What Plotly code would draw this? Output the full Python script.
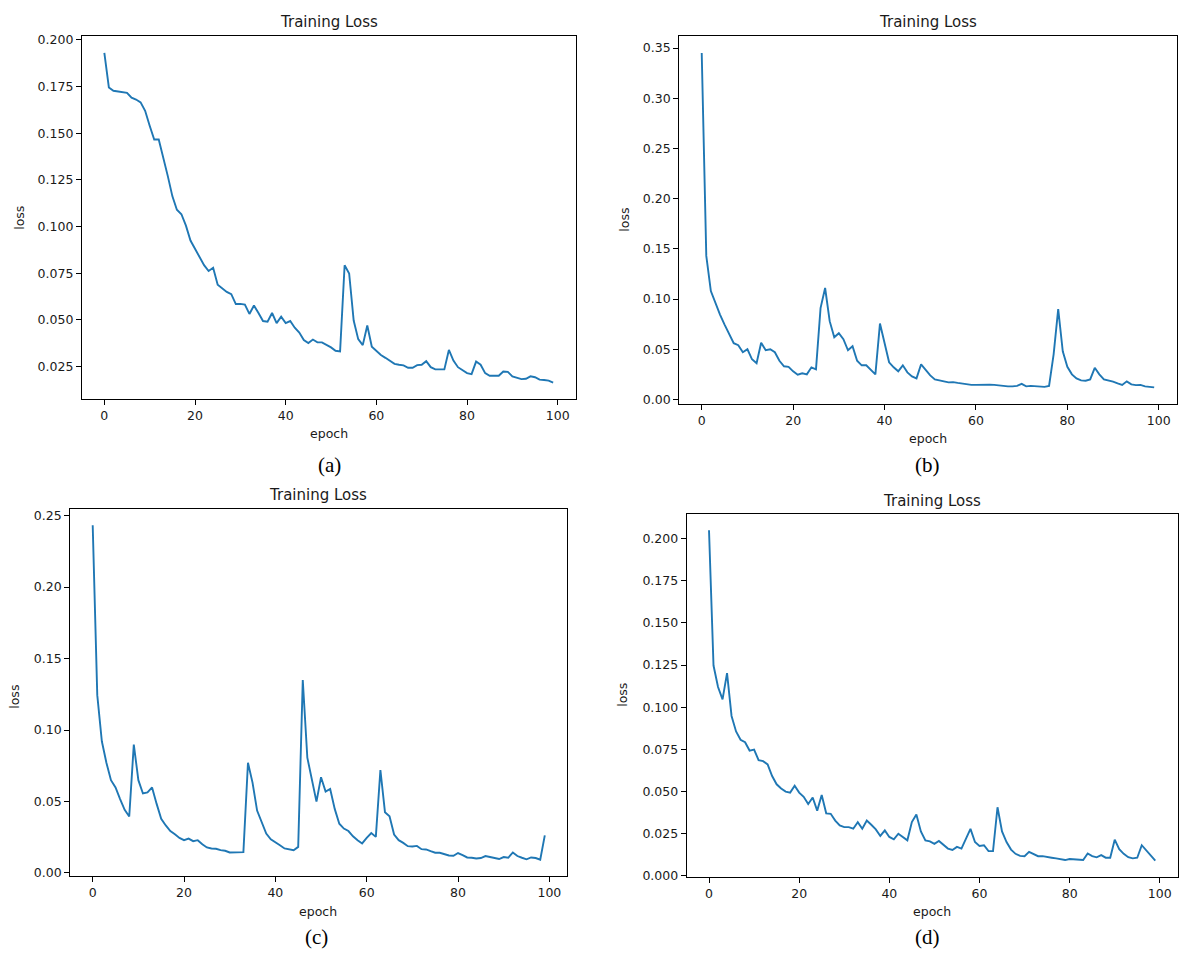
import plotly.graph_objects as go

# ---------------- data ----------------
epochs = list(range(100))

loss_a = [0.193, 0.1745, 0.1727, 0.1722, 0.1718, 0.1716, 0.169, 0.168, 0.1665, 0.162,
          0.154, 0.1466, 0.1466, 0.1375, 0.127, 0.1163, 0.109, 0.1066, 0.1005, 0.0925,
          0.088, 0.0843, 0.0793, 0.0762, 0.0779, 0.0688, 0.067, 0.065, 0.0638, 0.0585,
          0.0586, 0.0582, 0.0532, 0.0577, 0.0537, 0.0494, 0.049, 0.0537, 0.0483, 0.0517,
          0.0483, 0.0494, 0.0458, 0.0432, 0.0392, 0.0376, 0.0395, 0.038, 0.038, 0.0368,
          0.0353, 0.0335, 0.0331, 0.0793, 0.0749, 0.0497, 0.0397, 0.0365, 0.047, 0.0356,
          0.0335, 0.0312, 0.0297, 0.0282, 0.0265, 0.026, 0.0257, 0.0244, 0.0244, 0.0258,
          0.026, 0.0279, 0.0247, 0.0235, 0.0235, 0.0235, 0.0339, 0.0282, 0.0247, 0.0229,
          0.0215, 0.021, 0.0277, 0.026, 0.0215, 0.0201, 0.0201, 0.0201, 0.0224, 0.0222,
          0.0198, 0.0189, 0.0183, 0.0185, 0.0198, 0.0193, 0.018, 0.0178, 0.0175, 0.0164]

loss_b = [0.345, 0.143, 0.108, 0.096, 0.0845, 0.0746, 0.065, 0.056, 0.054, 0.047,
          0.050, 0.040, 0.036, 0.0565, 0.049, 0.050, 0.047, 0.0385, 0.033, 0.0325,
          0.028, 0.0246, 0.026, 0.025, 0.032, 0.030, 0.091, 0.111, 0.078, 0.062,
          0.066, 0.060, 0.049, 0.053, 0.0385, 0.034, 0.034, 0.029, 0.025, 0.0756,
          0.055, 0.037, 0.032, 0.028, 0.034, 0.027, 0.023, 0.021, 0.035, 0.029,
          0.024, 0.020, 0.0187, 0.018, 0.017, 0.0173, 0.0165, 0.0156, 0.015, 0.0145,
          0.0145, 0.0148, 0.0145, 0.0147, 0.0145, 0.014, 0.013, 0.013, 0.013, 0.0135,
          0.0155, 0.013, 0.0135, 0.013, 0.0125, 0.0125, 0.0135, 0.045, 0.090, 0.048,
          0.0325, 0.025, 0.021, 0.019, 0.0187, 0.020, 0.0315, 0.025, 0.020, 0.019,
          0.0177, 0.016, 0.0145, 0.018, 0.015, 0.0143, 0.0145, 0.013, 0.0125, 0.012]

loss_c = [0.2433, 0.1244, 0.0921, 0.0771, 0.0649, 0.0598, 0.0517, 0.0441, 0.0395, 0.0898,
          0.0649, 0.0556, 0.0563, 0.0598, 0.0483, 0.0379, 0.0332, 0.0293, 0.027, 0.0245,
          0.0229, 0.024, 0.0222, 0.0229, 0.0201, 0.0178, 0.0171, 0.0169, 0.0159, 0.0155,
          0.0143, 0.0143, 0.0145, 0.0145, 0.0771, 0.0632, 0.0436, 0.0355, 0.0275, 0.0235,
          0.0217, 0.0194, 0.0171, 0.0166, 0.0159, 0.0182, 0.135, 0.0806, 0.065, 0.0499,
          0.067, 0.0569, 0.0587, 0.0448, 0.0344, 0.031, 0.0293, 0.0256, 0.0229, 0.0206,
          0.0245, 0.0279, 0.0252, 0.072, 0.0425, 0.0397, 0.0268, 0.0229, 0.021, 0.0187,
          0.0185, 0.0189, 0.0166, 0.0164, 0.0152, 0.0141, 0.0141, 0.0132, 0.0122, 0.012,
          0.0139, 0.0124, 0.0108, 0.0106, 0.0101, 0.0104, 0.0118, 0.0111, 0.0104, 0.0097,
          0.0111, 0.0106, 0.0143, 0.0118, 0.0106, 0.0095, 0.0108, 0.0104, 0.0092, 0.0263]

loss_d = [0.2049, 0.1247, 0.112, 0.1046, 0.1202, 0.0948, 0.0856, 0.0807, 0.0792, 0.0743,
          0.0749, 0.0686, 0.068, 0.0661, 0.0592, 0.0543, 0.0518, 0.05, 0.0494, 0.0534,
          0.0494, 0.0469, 0.0426, 0.0465, 0.0387, 0.0479, 0.0371, 0.0368, 0.0328, 0.0299,
          0.0289, 0.0289, 0.028, 0.0319, 0.028, 0.0328, 0.0303, 0.0276, 0.0237, 0.027,
          0.0231, 0.0217, 0.025, 0.0231, 0.0211, 0.0319, 0.0364, 0.0264, 0.0211, 0.0205,
          0.019, 0.0207, 0.0182, 0.0162, 0.0154, 0.0172, 0.0162, 0.0221, 0.0279, 0.0201,
          0.0178, 0.0182, 0.0147, 0.0147, 0.0407, 0.0264, 0.0201, 0.0156, 0.0131, 0.0119,
          0.0117, 0.0143, 0.0131, 0.0117, 0.0117, 0.0111, 0.0108, 0.0104, 0.0100, 0.0094,
          0.0100, 0.0098, 0.0094, 0.0094, 0.0133, 0.0117, 0.0110, 0.0123, 0.0108, 0.0108,
          0.0215, 0.0158, 0.0131, 0.0111, 0.0104, 0.0108, 0.0182, 0.0152, 0.0117, 0.009]

x_ticks = [0, 20, 40, 60, 80, 100]
y_ticks_a = [0.025, 0.050, 0.075, 0.100, 0.125, 0.150, 0.175, 0.200]
y_ticks_b = [0.00, 0.05, 0.10, 0.15, 0.20, 0.25, 0.30, 0.35]
y_ticks_c = [0.00, 0.05, 0.10, 0.15, 0.20, 0.25]
y_ticks_d = [0.000, 0.025, 0.050, 0.075, 0.100, 0.125, 0.150, 0.175, 0.200]
y_tick_fmt = ["{:.3f}", "{:.2f}", "{:.2f}", "{:.3f}"]

panel_title = "Training Loss"
x_label = "epoch"
y_label = "loss"
captions = ["(a)", "(b)", "(c)", "(d)"]

# ---------------- layout geometry (pixels) ----------------
W, H = 1190, 966
# plot boxes: left, right, top, bottom
boxes = [(81.9, 575.6, 32.7, 399.3),
         (679.1, 1176.8, 32.7, 404.3),
         (70.1, 567.4, 509.8, 881.6),
         (686.7, 1177.6, 515.0, 882.4)]
title_pos = [(328.7, 18), (928, 18), (318, 496), (932, 502)]
xlabel_pos = [(328.7, 434), (928, 439), (318, 917), (932, 917)]
ylabel_pos = [(20, 216), (625, 218), (15, 700), (623, 698)]
caption_pos = [(329, 466), (927, 466), (316, 943), (927, 943)]

series = [loss_a, loss_b, loss_c, loss_d]
yticks = [y_ticks_a, y_ticks_b, y_ticks_c, y_ticks_d]

LINE_COLOR = "#1f77b4"
FONT = "DejaVu Sans"
TXT = "#1a1a1a"

fig = go.Figure()
annotations = []


def px(xp):
    return xp / W


def py(yp):
    return 1 - yp / H


for i in range(4):
    s = "" if i == 0 else str(i + 1)
    fig.add_trace(go.Scatter(x=epochs, y=series[i], mode="lines",
                             line=dict(color=LINE_COLOR, width=1.9),
                             xaxis="x" + s, yaxis="y" + s, showlegend=False,
                             hoverinfo="x+y"))
    l, r, t, b = boxes[i]
    vals = series[i]
    lo, hi = min(vals), max(vals)
    pad = 0.05 * (hi - lo)
    xaxis = dict(domain=[px(l), px(r)], anchor="y" + s, range=[-4.95, 103.95],
                 tickmode="array", tickvals=x_ticks, ticktext=[str(v) for v in x_ticks],
                 ticks="outside", ticklen=5, tickwidth=1, tickcolor="black",
                 showline=True, linecolor="black", linewidth=1, mirror=True,
                 showgrid=False, zeroline=False,
                 tickfont=dict(family=FONT, size=12.5, color=TXT))
    yaxis = dict(domain=[py(b), py(t)], anchor="x" + s, range=[lo - pad, hi + pad],
                 tickmode="array", tickvals=yticks[i],
                 ticktext=[y_tick_fmt[i].format(v) for v in yticks[i]],
                 ticks="outside", ticklen=5, tickwidth=1, tickcolor="black",
                 showline=True, linecolor="black", linewidth=1, mirror=True,
                 showgrid=False, zeroline=False,
                 tickfont=dict(family=FONT, size=12.5, color=TXT))
    fig.update_layout(**{"xaxis" + s: xaxis, "yaxis" + s: yaxis})

    annotations.append(dict(text=panel_title, x=px(title_pos[i][0]), y=py(title_pos[i][1]),
                            xref="paper", yref="paper", showarrow=False,
                            xanchor="center", yanchor="middle",
                            font=dict(family=FONT, size=15, color=TXT)))
    annotations.append(dict(text=x_label, x=px(xlabel_pos[i][0]), y=py(xlabel_pos[i][1]),
                            xref="paper", yref="paper", showarrow=False,
                            xanchor="center", yanchor="middle",
                            font=dict(family=FONT, size=12.5, color=TXT)))
    annotations.append(dict(text=y_label, x=px(ylabel_pos[i][0]), y=py(ylabel_pos[i][1]),
                            xref="paper", yref="paper", showarrow=False, textangle=-90,
                            xanchor="center", yanchor="middle",
                            font=dict(family=FONT, size=12.5, color=TXT)))
    annotations.append(dict(text=captions[i], x=px(caption_pos[i][0]), y=py(caption_pos[i][1]),
                            xref="paper", yref="paper", showarrow=False,
                            xanchor="center", yanchor="middle",
                            font=dict(family="Liberation Serif", size=21, color="black")))

fig.update_layout(width=W, height=H, margin=dict(l=0, r=0, t=0, b=0),
                  paper_bgcolor="white", plot_bgcolor="white",
                  annotations=annotations, showlegend=False)

fig.write_html("out.html", config={"displayModeBar": False},
               post_script="document.body.style.margin='0';document.body.style.overflow='hidden';")
